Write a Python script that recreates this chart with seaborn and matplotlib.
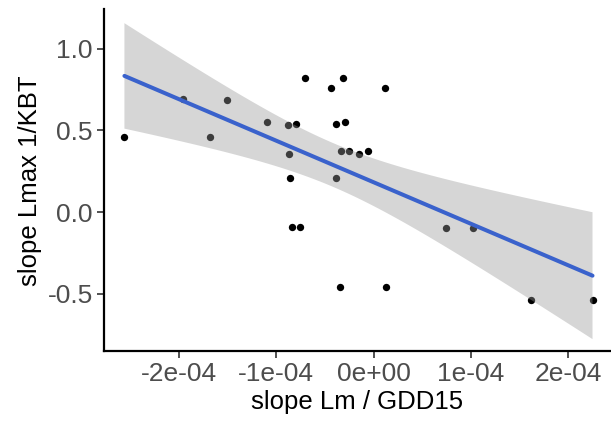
import numpy as np
import pandas as pd
import matplotlib
matplotlib.use("Agg")
import matplotlib.pyplot as plt
import seaborn as sns

# slope of Lm per GDD15 against slope of Lmax per 1/KBT
slope_lm = [-2.56e-4, -1.955e-4, -1.68e-4, -1.51e-4, -1.10e-4, -0.883e-4, -0.80e-4,
            -0.873e-4, -0.856e-4, -0.838e-4, -0.756e-4, -0.704e-4, -0.436e-4, -0.316e-4,
            -0.39e-4, -0.289e-4, -0.333e-4, -0.254e-4, -0.15e-4, -0.39e-4, -0.343e-4,
            0.117e-4, -0.058e-4, 0.13e-4, 0.742e-4, 1.024e-4, 1.62e-4, 2.25e-4]
slope_lmax = [0.457, 0.69, 0.457, 0.687, 0.553, 0.53, 0.54,
              0.358, 0.21, -0.09, -0.09, 0.82, 0.76, 0.82,
              0.54, 0.553, 0.376, 0.376, 0.358, 0.21, -0.46,
              0.76, 0.376, -0.46, -0.10, -0.10, -0.537, -0.537]

x_ticks = [-2e-4, -1e-4, 0.0, 1e-4, 2e-4]
x_tick_labels = ["-2e-04", "-1e-04", "0e+00", "1e-04", "2e-04"]
y_ticks = [-0.5, 0.0, 0.5, 1.0]
y_tick_labels = ["-0.5", "0.0", "0.5", "1.0"]

df = pd.DataFrame({"slope_lm": slope_lm, "slope_lmax": slope_lmax})

# ordinary least squares fit with a 95% confidence band for the mean
x = df["slope_lm"].to_numpy()
y = df["slope_lmax"].to_numpy()
n = len(x)
b1, b0 = np.polyfit(x, y, 1)
resid = y - (b0 + b1 * x)
s = np.sqrt(np.sum(resid ** 2) / (n - 2))
t_crit = 2.0555  # Student t, 0.975 quantile, 26 degrees of freedom
grid = np.linspace(x.min(), x.max(), 80)
fit = b0 + b1 * grid
se = s * np.sqrt(1.0 / n + (grid - x.mean()) ** 2 / np.sum((x - x.mean()) ** 2))
band = pd.DataFrame({"x": grid, "fit": fit, "lo": fit - t_crit * se, "hi": fit + t_crit * se})

sns.set_style("white")
plt.rcParams["font.family"] = ["Liberation Sans", "DejaVu Sans"]

fig = plt.figure(figsize=(6.11, 4.25), dpi=100)
ax = fig.add_axes([0.1702, 0.174, 0.8298, 0.804])

sns.scatterplot(data=df, x="slope_lm", y="slope_lmax", ax=ax, color="black",
                s=28, linewidth=0, zorder=1)
# grey ribbon laid over the points, fitted line on top
ax.fill_between(band["x"], band["lo"], band["hi"], facecolor="#999999",
                alpha=0.4, edgecolor="none", zorder=2)
sns.lineplot(data=band, x="x", y="fit", ax=ax, color="#3A62CC", lw=2.9, zorder=3)

ax.set_xlim(-2.77e-4, 2.44e-4)
ax.set_ylim(-0.85, 1.24)
ax.set_xticks(x_ticks)
ax.set_xticklabels(x_tick_labels)
ax.set_yticks(y_ticks)
ax.set_yticklabels(y_tick_labels)

for side in ["top", "right"]:
    ax.spines[side].set_visible(False)
for side in ["left", "bottom"]:
    ax.spines[side].set_color("black")
    ax.spines[side].set_linewidth(1.6)

ax.tick_params(axis="both", which="major", direction="out", length=5, width=1.2,
               color="#333333", labelcolor="#4D4D4D", labelsize=19, pad=3,
               bottom=True, left=True)
ax.set_xlabel("slope Lm / GDD15", fontsize=18.5, color="black", labelpad=3)
ax.set_ylabel("slope Lmax 1/KBT", fontsize=18.5, color="black", labelpad=4)

fig.savefig("out.png", dpi=100)
